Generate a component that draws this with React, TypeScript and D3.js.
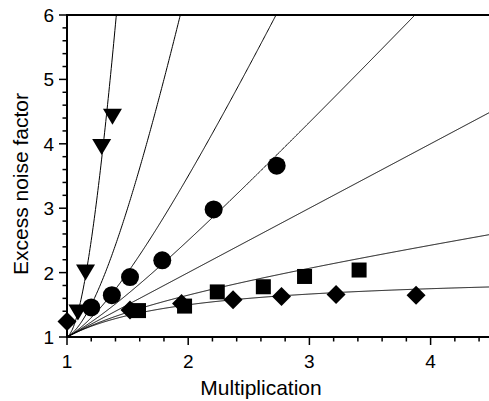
import React from "react";
import * as d3 from "d3";

// McIntyre k values of the theoretical curves
const kValues = [0, 0.3, 1, 2, 4, 10, 40];

const diamondM = [1.0, 1.52, 1.945, 2.37, 2.77, 3.22, 3.88];
const diamondF = [1.24, 1.42, 1.52, 1.58, 1.63, 1.66, 1.65];

const squareM = [1.59, 1.97, 2.24, 2.62, 2.96, 3.41];
const squareF = [1.41, 1.48, 1.7, 1.78, 1.94, 2.04];

const circleM = [1.2, 1.37, 1.52, 1.786, 2.21, 2.73];
const circleF = [1.46, 1.65, 1.93, 2.19, 2.98, 3.66];

const triangleM = [1.09, 1.153, 1.286, 1.375];
const triangleF = [1.38, 2.0, 3.95, 4.42];

const xTickLabels = [1, 2, 3, 4];
const yTickLabels = [1, 2, 3, 4, 5, 6];

const W = 489;
const H = 401;
const FONT = "'Liberation Sans', Arial, Helvetica, sans-serif";

const mcintyre = (k: number, M: number) => k * M + (1 - k) * (2 - 1 / M);

export default function App() {
  const x = d3.scaleLinear().domain([1, 4.5]).range([67, 491.2]);
  const y = d3.scaleLinear().domain([1, 6]).range([337, 15]);

  const samples = d3.range(1, 4.5001, 0.005);

  const xMinor = d3.range(1, 4.5001, 0.2).filter((v) => Math.abs(v - Math.round(v)) > 1e-6);
  const yMinor = d3.range(1, 6.0001, 0.2).filter((v) => Math.abs(v - Math.round(v)) > 1e-6);

  const sq = 15;
  const dg = 9.5;
  const tw = 9.5;
  const th = 16;

  return (
    <svg
      width={W}
      height={H}
      style={{ position: "absolute", left: 0, top: 0, background: "#fff" }}
    >
      <defs>
        <clipPath id="plotclip">
          <rect x={67} y={15} width={430} height={322} />
        </clipPath>
      </defs>
      <rect x={0} y={0} width={W} height={H} fill="#fff" />
      <g clipPath="url(#plotclip)">
        {kValues.map((k) => {
          const pts = samples.filter((m) => mcintyre(k, m) <= 6.3);
          const p = d3
            .line<number>()
            .x((m) => x(m))
            .y((m) => y(mcintyre(k, m)))(pts);
          return <path key={"c" + k} d={p || ""} fill="none" stroke="#000" strokeWidth={1} />;
        })}
      </g>
      {/* markers */}
      <g fill="#000">
        {diamondM.map((m, i) => {
          const cx = x(m);
          const cy = y(diamondF[i]);
          return (
            <path
              key={"d" + i}
              d={`M${cx},${cy - dg}L${cx + dg},${cy}L${cx},${cy + dg}L${cx - dg},${cy}Z`}
            />
          );
        })}
        {squareM.map((m, i) => (
          <rect key={"s" + i} x={x(m) - sq / 2} y={y(squareF[i]) - sq / 2} width={sq} height={sq} />
        ))}
        {circleM.map((m, i) => (
          <circle key={"c" + i} cx={x(m)} cy={y(circleF[i])} r={9} />
        ))}
        {triangleM.map((m, i) => {
          const cx = x(m);
          const cy = y(triangleF[i]);
          return (
            <path
              key={"t" + i}
              d={`M${cx - tw},${cy - th / 2}L${cx + tw},${cy - th / 2}L${cx},${cy + th / 2}Z`}
            />
          );
        })}
      </g>
      {/* axes */}
      <g stroke="#000" strokeWidth={1.5}>
        <line x1={66} x2={W} y1={15} y2={15} strokeWidth={2} />
        <line x1={67} x2={67} y1={14} y2={338} strokeWidth={2} />
        <line x1={66} x2={W} y1={337} y2={337} strokeWidth={2} />
        {xTickLabels.map((v) => (
          <line key={"xM" + v} x1={x(v)} x2={x(v)} y1={337} y2={345} />
        ))}
        {xMinor.map((v, i) => (
          <line key={"xm" + i} x1={x(v)} x2={x(v)} y1={337} y2={341.5} />
        ))}
        {yTickLabels.map((v) => (
          <line key={"yM" + v} x1={59} x2={67} y1={y(v)} y2={y(v)} />
        ))}
        {yMinor.map((v, i) => (
          <line key={"ym" + i} x1={62.5} x2={67} y1={y(v)} y2={y(v)} />
        ))}
      </g>
      <g fontFamily={FONT} fontSize={19} fill="#000">
        {xTickLabels.map((v) => (
          <text key={"xl" + v} x={x(v)} y={368} textAnchor="middle">
            {v}
          </text>
        ))}
        {yTickLabels.map((v) => (
          <text key={"yl" + v} x={54} y={y(v) + 7} textAnchor="end">
            {v}
          </text>
        ))}
      </g>
      <text
        x={261}
        y={395}
        textAnchor="middle"
        fontFamily={FONT}
        fontSize={21}
        fill="#000"
      >
        Multiplication
      </text>
      <g transform="translate(28,184)">
        <text
          transform="rotate(-90)"
          textAnchor="middle"
          fontFamily={FONT}
          fontSize={21}
          fill="#000"
          style={{ fill: "#000" }}
        >
          Excess noise factor
        </text>
      </g>
    </svg>
  );
}
